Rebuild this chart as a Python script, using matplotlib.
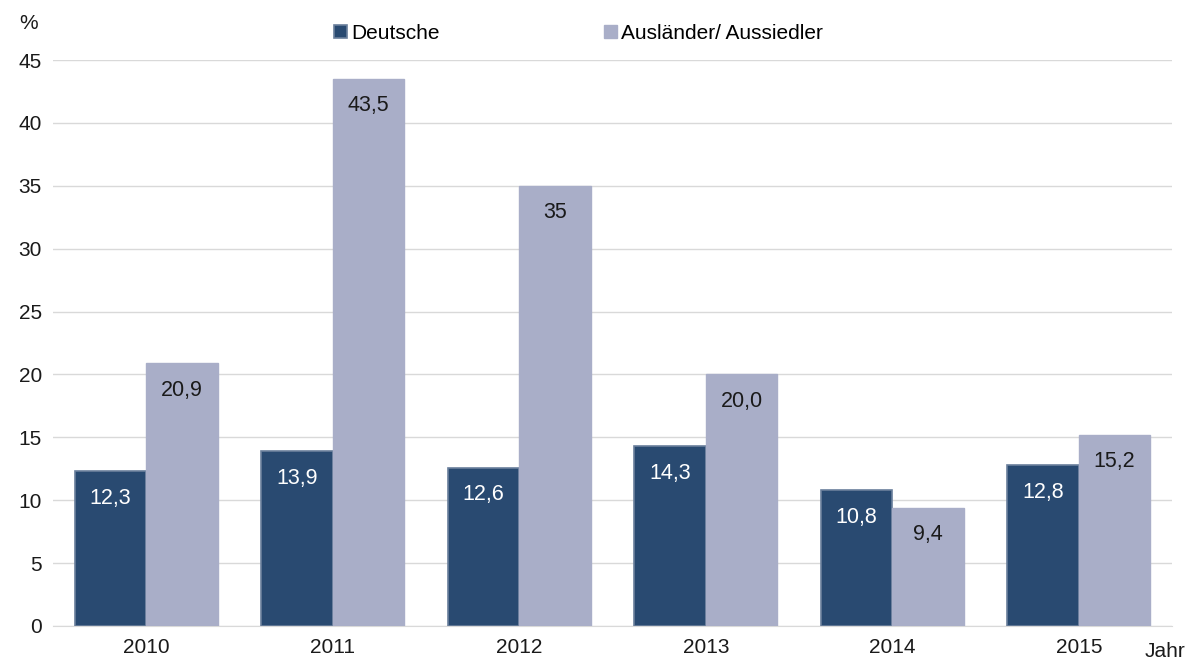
import numpy as np
import matplotlib.pyplot as plt

plt.rcParams['font.family'] = ['Liberation Sans', 'DejaVu Sans']

years = ["2010", "2011", "2012", "2013", "2014", "2015"]
deutsche = [12.3, 13.9, 12.6, 14.3, 10.8, 12.8]
auslaender = [20.9, 43.5, 35.0, 20.0, 9.4, 15.2]
labels_d = ["12,3", "13,9", "12,6", "14,3", "10,8", "12,8"]
labels_a = ["20,9", "43,5", "35", "20,0", "9,4", "15,2"]

c_dark = "#294a71"
c_light = "#a9aec8"

fig = plt.figure(figsize=(11.96, 6.61), dpi=100)
ax = fig.add_axes([0.0443, 0.053, 0.9357, 0.8562])

x = np.arange(len(years))
w = 0.383
b1 = ax.bar(x - w/2, deutsche, w, color=c_dark, edgecolor="#6a7f9c", linewidth=1.2, zorder=3)
b2 = ax.bar(x + w/2, auslaender, w, color=c_light, edgecolor=c_light, linewidth=1.0, zorder=3)

for rect, lab in zip(b1, labels_d):
    ax.annotate(lab, (rect.get_x() + rect.get_width()/2, rect.get_height()),
                xytext=(0, -19.5), textcoords="offset points", ha="center", va="center",
                color="white", fontsize=15.5, zorder=4)
for rect, lab in zip(b2, labels_a):
    ax.annotate(lab, (rect.get_x() + rect.get_width()/2, rect.get_height()),
                xytext=(0, -19.5), textcoords="offset points", ha="center", va="center",
                color="#1a1a1a", fontsize=15.5, zorder=4)

ax.set_xlim(-0.5, 5.5)
ax.set_ylim(0, 45)
ax.set_yticks(np.arange(0, 46, 5))
ax.set_xticks(x)
ax.set_xticklabels(years)
ax.yaxis.grid(True, color="#d9d9d9", linewidth=1.0, zorder=0)
ax.set_axisbelow(True)
for s in ["left", "right", "top"]:
    ax.spines[s].set_visible(False)
ax.spines["bottom"].set_color("#d9d9d9")
ax.tick_params(axis="both", length=0, labelsize=15, colors="#1a1a1a")
ax.tick_params(axis="y", pad=8)
ax.tick_params(axis="x", pad=9)

fig.text(0.016, 0.965, "%", fontsize=15, color="#1a1a1a", ha="left", va="center")
fig.text(0.957, 0.015, "Jahr", fontsize=15, color="#1a1a1a", ha="left", va="center")

leg = fig.legend([b1, b2], ["Deutsche", "Ausländer/ Aussiedler"], loc="center",
                 bbox_to_anchor=(0.4837, 0.95), ncol=2, frameon=False, fontsize=15,
                 handlelength=0.6, handleheight=0.6, handletextpad=0.2, columnspacing=7.9)

fig.savefig("out.png", dpi=100)
